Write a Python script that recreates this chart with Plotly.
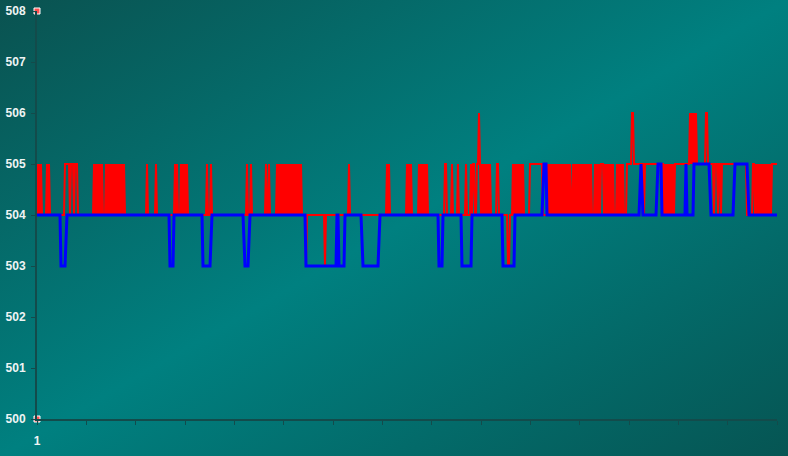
import base64
import plotly.graph_objects as go

# ---------------- data ----------------
N_POINTS = 741                      # samples along the x axis (first labelled "1")
X_TICK_LABELS = ["1"]               # only the first x tick carries a label
Y_TICKS = [500, 501, 502, 503, 504, 505, 506, 507, 508]

# blue series as (value, run length)
BLUE_RUNS = [
    (504, 24), (503, 5), (503.5, 1), (504, 103), (503, 4), (504, 29),
    (503, 8), (503.5, 1), (504, 32), (503.5, 1), (503, 4), (503.5, 1),
    (504, 56), (503, 31), (504, 2), (503, 6), (504, 17), (503.5, 1),
    (503, 16), (503.5, 1), (504, 59), (503, 4), (504, 19), (503, 10),
    (504, 31), (503, 12), (504, 28), (504.5, 1), (505, 3), (504, 93),
    (504.5, 1), (505, 1), (504.5, 1), (504, 14), (504.5, 1), (505, 4),
    (504, 24), (505, 1), (504, 7), (505, 16), (504.5, 1), (504, 23),
    (504.5, 1), (505, 13), (504.5, 1), (504, 29),
]

# red series: base level 504, with read-off deviations (start sample, digits = value - 500)
RED_BASE = 504
RED_MARKS = [
    (1, "545454"), (11, "545"), (29, "5555545554555"), (58, "545454545"),
    (70, "54545"), (76, "54545"), (82, "5454545"), (111, "5"), (120, "5"),
    (139, "545"), (145, "5454545"), (171, "5"), (175, "5"), (211, "5"),
    (215, "5"), (230, "5"), (233, "5"), (241, "5454545454545454545454545"),
    (270, "3"), (289, "3"), (313, "5"), (351, "545"), (371, "54545"),
    (383, "545454545"), (409, "55"), (416, "5"), (422, "5"), (430, "5"),
    (435, "5455"), (441, "55654545454545"), (461, "55"), (472, "33"),
    (477, "54545454545"), (494, "5555555555555"),
    (512, "54545454545454545454545"), (537, "5454545454545454545"),
    (559, "54545455"), (567, "54545454545"), (581, "5454545"),
    (591, "5555566555555"), (604, "5555"), (609, "5555555555555555555"),
    (629, "5454545454"), (639, "555555555555555"), (654, "6565656"),
    (661, "555555555"), (670, "66"), (672, "555555"), (679, "555"),
    (683, "55"), (686, "5555555555555555555555555"), (717, "55"),
    (720, "54545454545454545"), (737, "55555"),
]

CORNER_Y = [508, 500]   # small marker squares at the axis ends

# ---------------- build series ----------------
x = list(range(1, N_POINTS + 1))
red = [RED_BASE] * N_POINTS
for start, pat in RED_MARKS:
    for j, ch in enumerate(pat):
        red[start - 1 + j] = 500 + int(ch)
blue = []
for v, n in BLUE_RUNS:
    blue += [v] * n

# ---------------- background gradient ----------------
W, H = 788, 456
ML, MR, MT, MB = 37, 11, 11, 37
svg = (
    f'<svg xmlns="http://www.w3.org/2000/svg" width="{W}" height="{H}" '
    f'viewBox="0 0 {W} {H}" preserveAspectRatio="none">'
    '<defs><linearGradient id="g" x1="0" y1="0" x2="1" y2="1">'
    '<stop offset="0" stop-color="#0a5250"/>'
    '<stop offset="0.5" stop-color="#008080"/>'
    '<stop offset="1" stop-color="#065553"/>'
    '</linearGradient></defs>'
    f'<rect width="{W}" height="{H}" fill="url(#g)"/></svg>'
)
bg_src = "data:image/svg+xml;base64," + base64.b64encode(svg.encode()).decode()
pw, ph = W - ML - MR, H - MT - MB

fig = go.Figure()
fig.add_trace(go.Scatter(
    x=x, y=red, mode="lines",
    line=dict(color="#ff0000", width=2, simplify=False),
    hoverinfo="skip", showlegend=False,
))
fig.add_trace(go.Scatter(
    x=x, y=blue, mode="lines",
    line=dict(color="#0000ff", width=3, simplify=False),
    hoverinfo="skip", showlegend=False,
))
fig.add_trace(go.Scatter(
    x=[x[0]] * len(CORNER_Y), y=CORNER_Y, mode="markers",
    marker=dict(symbol="square", size=6, color="#ff5050",
                line=dict(color="#ffffff", width=1)),
    cliponaxis=False, hoverinfo="skip", showlegend=False,
))

axis_color = "#134b4b"
tick_font = dict(family="Liberation Sans, Arial, sans-serif", size=12,
                 color="#eef4f4", weight="bold")

xt = [1 + k * (N_POINTS - 1) / 15 for k in range(16)]
fig.update_layout(
    width=W, height=H,
    margin=dict(l=ML, r=MR, t=MT, b=MB, pad=0, autoexpand=False),
    paper_bgcolor="#007070",
    plot_bgcolor="rgba(0,0,0,0)",
    images=[dict(source=bg_src, xref="paper", yref="paper",
                 x=-ML / pw, y=1 + MT / ph, sizex=W / pw, sizey=H / ph,
                 xanchor="left", yanchor="top", sizing="stretch",
                 layer="below")],
    xaxis=dict(
        range=[1, N_POINTS], tickvals=xt, automargin=False,
        ticktext=X_TICK_LABELS + [""] * (len(xt) - 1),
        showgrid=False, zeroline=False, showline=True,
        linecolor=axis_color, linewidth=2,
        ticks="outside", ticklen=4, tickwidth=1, tickcolor=axis_color,
        tickfont=tick_font, ticklabelstandoff=6,
    ),
    yaxis=dict(
        range=[500, 508], tickvals=Y_TICKS, automargin=False,
        showgrid=False, zeroline=False, showline=True,
        linecolor=axis_color, linewidth=2,
        ticks="outside", ticklen=4, tickwidth=1, tickcolor=axis_color,
        tickfont=tick_font, ticklabelstandoff=3,
    ),
)

fig.write_html(
    "out.html",
    config={"displayModeBar": False, "staticPlot": True},
    post_script="document.body.style.margin='0';"
                "document.body.style.padding='0';"
                "document.body.style.overflow='hidden';"
                "document.documentElement.style.overflow='hidden';",
)
